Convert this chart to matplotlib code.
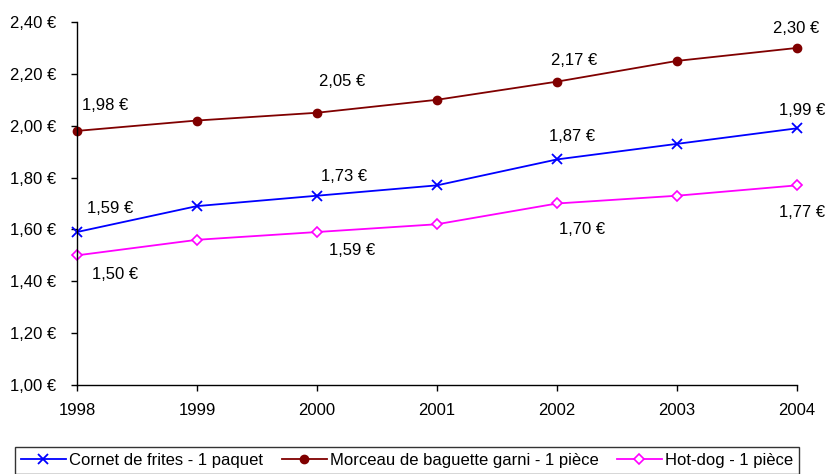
import matplotlib
matplotlib.use("Agg")
import matplotlib.pyplot as plt
from matplotlib.ticker import FuncFormatter

plt.rcParams['font.family'] = ['Liberation Sans', 'DejaVu Sans']

years = [1998, 1999, 2000, 2001, 2002, 2003, 2004]
cornet = [1.59, 1.69, 1.73, 1.77, 1.87, 1.93, 1.99]
baguette = [1.98, 2.02, 2.05, 2.10, 2.17, 2.25, 2.30]
hotdog = [1.50, 1.56, 1.59, 1.62, 1.70, 1.73, 1.77]
names = ["Cornet de frites - 1 paquet", "Morceau de baguette garni - 1 pièce", "Hot-dog - 1 pièce"]
yticks = [1.00, 1.20, 1.40, 1.60, 1.80, 2.00, 2.20, 2.40]
labeled_idx = [0, 2, 4, 6]

# label offsets in pixels (dx, dy with dy positive = downward)
off_bag = [(28, -25), (25, -31), (17, -21), (-1, -19)]
off_cor = [(33, -24), (27, -19), (15, -23), (5, -18)]
off_hot = [(38, 19), (35, 18), (25, 26), (5, 27)]

def eur(v):
    return f"{v:.2f}".replace(".", ",") + " €"

fig = plt.figure(figsize=(8.28, 4.74), dpi=100)
ax = fig.add_axes([77/828, 1-385/474, 720/828, 363/474])

fs = 12
ax.plot(years, cornet, color='#0000ff', marker='x', markersize=7.5, mew=1.3, lw=1.3, label=names[0], clip_on=False)
ax.plot(years, baguette, color='#800000', marker='o', markersize=6, lw=1.3, label=names[1], clip_on=False)
ax.plot(years, hotdog, color='#ff00ff', marker='D', markersize=5.5, mfc='white', mew=1.2, lw=1.3, label=names[2], clip_on=False)

for series, offs in ((baguette, off_bag), (cornet, off_cor), (hotdog, off_hot)):
    for k, i in enumerate(labeled_idx):
        dx, dy = offs[k]
        ax.annotate(eur(series[i]), (years[i], series[i]), xytext=(dx, -dy),
                    textcoords='offset pixels', ha='center', va='center',
                    fontsize=fs, annotation_clip=False)

ax.set_xlim(1998, 2004)
ax.set_ylim(1.00, 2.40)
ax.set_xticks(years)
ax.set_yticks(yticks)
ax.yaxis.set_major_formatter(FuncFormatter(lambda v, p: eur(v)))
ax.tick_params(labelsize=fs, direction='out', length=4, color='black', width=1)
ax.tick_params(axis='y', pad=11)
ax.tick_params(axis='x', pad=9)
ax.spines['top'].set_visible(False)
ax.spines['right'].set_visible(False)
for s in ['left', 'bottom']:
    ax.spines[s].set_color('black')
    ax.spines[s].set_linewidth(1)

leg = fig.legend(loc='upper left', bbox_to_anchor=(15/828, 1-447/474),
                 ncol=3, fontsize=fs, frameon=True, fancybox=False,
                 edgecolor='black', handlelength=2.7, handletextpad=0.2,
                 borderpad=0.35, borderaxespad=0, columnspacing=1.1)
leg.get_frame().set_linewidth(1)

fig.savefig("out.png", dpi=100)
